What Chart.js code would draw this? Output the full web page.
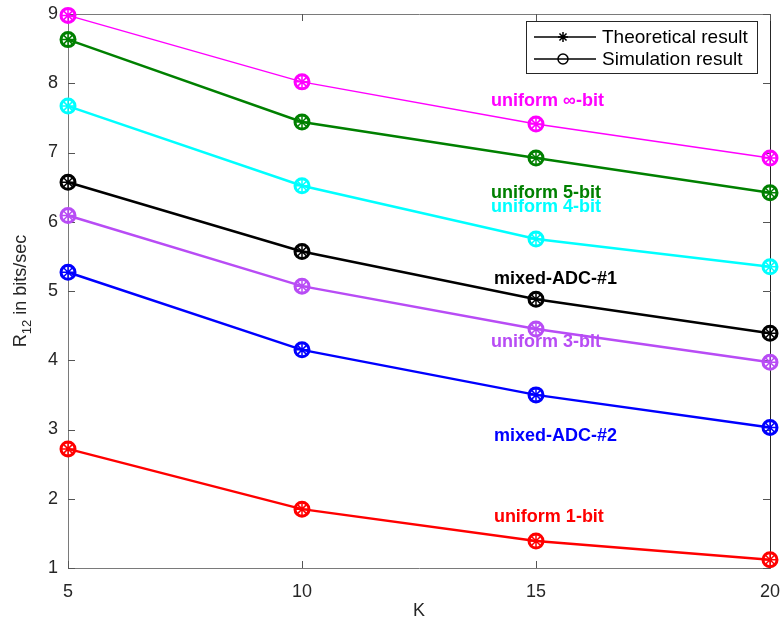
<!DOCTYPE html>
<html>
<head>
<meta charset="utf-8">
<script src="https://cdn.jsdelivr.net/npm/chart.js@4"></script>
<style>
  html, body { margin: 0; padding: 0; background: #fff; }
  #wrap { width: 781px; height: 622px; }
</style>
</head>
<body>
<div id="wrap"><canvas id="chart" width="781" height="622"></canvas></div>
<script>
// data
const kValues = [5, 10, 15, 20];
const yTicks = [1, 2, 3, 4, 5, 6, 7, 8, 9];

const uniformInf = [8.98, 8.02, 7.41, 6.92];
const uniform5 = [8.63, 7.44, 6.92, 6.42];
const uniform4 = [7.67, 6.52, 5.75, 5.35];
const mixedAdc1 = [6.57, 5.57, 4.88, 4.39];
const uniform3 = [6.09, 5.07, 4.45, 3.97];
const mixedAdc2 = [5.27, 4.15, 3.50, 3.03];
const uniform1 = [2.72, 1.85, 1.39, 1.12];

const seriesNames = ['uniform \u221e-bit', 'uniform 5-bit', 'uniform 4-bit', 'mixed-ADC-#1', 'uniform 3-bit', 'mixed-ADC-#2', 'uniform 1-bit'];
const seriesValues = [uniformInf, uniform5, uniform4, mixedAdc1, uniform3, mixedAdc2, uniform1];
const seriesColors = ['#ff00ff', '#008000', '#00ffff', '#000000', '#b84cf5', '#0000ff', '#ff0000'];
const seriesWidths = [1.5, 2.5, 2.5, 2.5, 2.5, 2.5, 2.5];

// where the coloured names sit (data coords)
const labelX = [14.04, 14.04, 14.04, 14.1, 14.04, 14.1, 14.1];
const labelY = [7.75, 6.42, 6.21, 5.18, 4.27, 2.9, 1.73];

const legendNames = ['Theoretical result', 'Simulation result'];

const datasets = [];
seriesValues.forEach((vals, i) => {
  const pts = kValues.map((k, j) => ({ x: k, y: vals[j] }));
  // simulation: line with circles
  datasets.push({
    label: seriesNames[i],
    data: pts,
    clip: false,
    borderColor: seriesColors[i],
    backgroundColor: 'rgba(0,0,0,0)',
    borderWidth: seriesWidths[i],
    pointStyle: 'circle',
    pointRadius: 7,
    pointBorderWidth: 3,
    pointBorderColor: seriesColors[i],
    tension: 0,
  });
  // theoretical: asterisks on top
  datasets.push({
    label: seriesNames[i] + ' theory',
    data: pts,
    clip: false,
    showLine: false,
    borderColor: seriesColors[i],
    pointStyle: 'star',
    pointRadius: 6,
    pointBorderWidth: 1.5,
    pointBorderColor: seriesColors[i],
  });
});

const FONT = '"Liberation Sans", Arial, sans-serif';

const decorPlugin = {
  id: 'decor',
  beforeDatasetsDraw(chart) {
    const { ctx, chartArea: a, scales } = chart;
    const xs = scales.x, ys = scales.y;
    ctx.save();

    // frame
    ctx.lineWidth = 1;
    ctx.strokeStyle = '#7a7a7a';
    ctx.beginPath();
    ctx.moveTo(a.left + 0.5, a.top + 0.5);
    ctx.lineTo(a.left + 0.5, a.bottom + 0.5);
    ctx.lineTo(a.right + 0.5, a.bottom + 0.5);
    ctx.moveTo(a.left + 0.5, a.top + 0.5);
    ctx.lineTo(a.right + 0.5, a.top + 0.5);
    ctx.stroke();
    ctx.strokeStyle = '#262626';
    ctx.beginPath();
    ctx.moveTo(a.right + 0.5, a.top + 0.5);
    ctx.lineTo(a.right + 0.5, a.bottom + 0.5);
    ctx.stroke();

    // inward ticks
    const tl = 7;
    ctx.strokeStyle = '#555';
    ctx.beginPath();
    yTicks.forEach(v => {
      const py = Math.round(ys.getPixelForValue(v)) + 0.5;
      ctx.moveTo(a.left, py); ctx.lineTo(a.left + tl, py);
      ctx.moveTo(a.right, py); ctx.lineTo(a.right - tl, py);
    });
    kValues.forEach(v => {
      const px = Math.round(xs.getPixelForValue(v)) + 0.5;
      ctx.moveTo(px, a.bottom); ctx.lineTo(px, a.bottom - tl);
      ctx.moveTo(px, a.top); ctx.lineTo(px, a.top + tl);
    });
    ctx.stroke();
    ctx.restore();
  },
  afterDatasetsDraw(chart) {
    const { ctx, chartArea: a, scales } = chart;
    const xs = scales.x, ys = scales.y;
    ctx.save();

    // series names
    ctx.font = 'bold 18px ' + FONT;
    ctx.textAlign = 'left';
    ctx.textBaseline = 'middle';
    seriesNames.forEach((name, i) => {
      ctx.fillStyle = seriesColors[i];
      ctx.fillText(name, xs.getPixelForValue(labelX[i]), ys.getPixelForValue(labelY[i]));
    });

    // legend
    const bx = 526, by = 21, bw = 231, bh = 52;
    ctx.fillStyle = '#fff';
    ctx.fillRect(bx, by, bw, bh);
    ctx.strokeStyle = '#262626';
    ctx.lineWidth = 1;
    ctx.strokeRect(bx + 0.5, by + 0.5, bw, bh);
    ctx.font = '19px ' + FONT;
    ctx.fillStyle = '#000';
    legendNames.forEach((name, i) => {
      const ly = by + 16 + i * 22;
      ctx.strokeStyle = '#000';
      ctx.lineWidth = 1.5;
      ctx.beginPath();
      ctx.moveTo(bx + 8, ly); ctx.lineTo(bx + 70, ly);
      ctx.stroke();
      const mx = bx + 37;
      ctx.lineWidth = 1.5;
      ctx.beginPath();
      if (i === 0) {
        for (let k = 0; k < 4; k++) {
          const ang = k * Math.PI / 4;
          ctx.moveTo(mx - 5 * Math.cos(ang), ly - 5 * Math.sin(ang));
          ctx.lineTo(mx + 5 * Math.cos(ang), ly + 5 * Math.sin(ang));
        }
      } else {
        ctx.arc(mx, ly, 5, 0, Math.PI * 2);
      }
      ctx.stroke();
      ctx.fillText(name, bx + 76, ly + 1);
    });

    // y title with subscript
    ctx.fillStyle = '#262626';
    ctx.translate(20, (a.top + a.bottom) / 2);
    ctx.rotate(-Math.PI / 2);
    const main = 18, sub = 13;
    ctx.font = main + 'px ' + FONT;
    const wR = ctx.measureText('R').width;
    const wRest = ctx.measureText(' in bits/sec').width;
    ctx.font = sub + 'px ' + FONT;
    const wSub = ctx.measureText('12').width;
    let x0 = -(wR + wSub + wRest) / 2;
    ctx.textAlign = 'left';
    ctx.textBaseline = 'alphabetic';
    ctx.font = main + 'px ' + FONT;
    ctx.fillText('R', x0, 6);
    ctx.font = sub + 'px ' + FONT;
    ctx.fillText('12', x0 + wR, 11);
    ctx.font = main + 'px ' + FONT;
    ctx.fillText(' in bits/sec', x0 + wR + wSub, 6);

    ctx.restore();
  }
};

new Chart(document.getElementById('chart'), {
  type: 'line',
  data: { datasets },
  options: {
    responsive: false,
    animation: false,
    layout: { padding: { top: 14, right: 11, left: 0, bottom: 0 } },
    plugins: {
      legend: { display: false },
      tooltip: { enabled: false },
    },
    scales: {
      x: {
        type: 'linear',
        min: 5,
        max: 20,
        grid: { display: false },
        border: { display: false },
        afterBuildTicks: (s) => { s.ticks = kValues.map(v => ({ value: v })); },
        afterFit: (s) => { s.height = 54; s.paddingLeft = 0; s.paddingRight = 0; },
        ticks: {
          color: '#262626',
          padding: 5,
          font: { family: FONT, size: 18 },
        },
        title: {
          display: true,
          text: 'K',
          color: '#262626',
          padding: { top: 2, bottom: 0 },
          font: { family: FONT, size: 18 },
        },
      },
      y: {
        min: 1,
        max: 9,
        grid: { display: false, drawTicks: false },
        border: { display: false },
        afterBuildTicks: (s) => { s.ticks = yTicks.map(v => ({ value: v })); },
        afterFit: (s) => { s.width = 68; s.paddingTop = 0; s.paddingBottom = 0; },
        ticks: {
          color: '#262626',
          padding: 10,
          font: { family: FONT, size: 18 },
        },
      },
    },
  },
  plugins: [decorPlugin],
});
</script>
</body>
</html>
